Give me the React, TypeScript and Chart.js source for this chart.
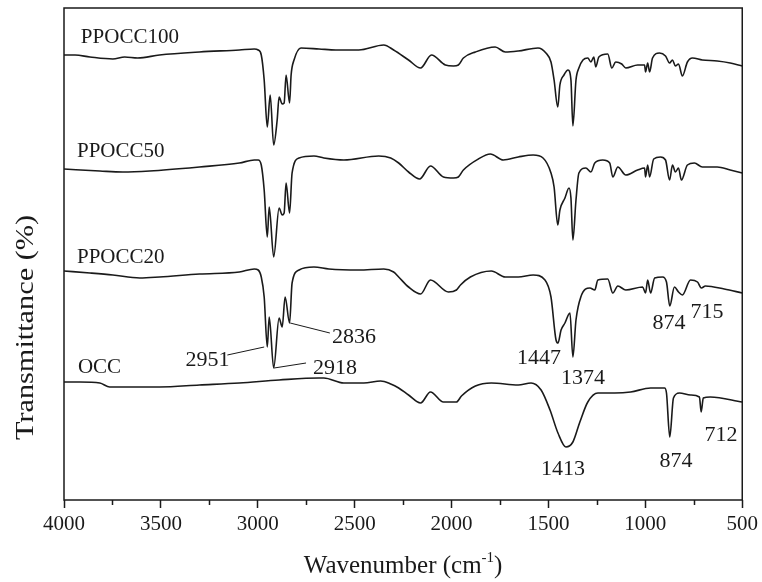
import React, { useEffect, useRef } from 'react';
import { Chart, registerables } from 'chart.js';

Chart.register(...registerables);

// Wavenumber (cm-1) and transmittance (stacked, arbitrary units) for each sample
const PPOCC100_WN = [4000, 3943, 3866, 3748, 3687, 3620, 3507, 3301, 3095, 3018, 2998, 2982, 2967, 2951, 2936, 2918, 2900, 2890, 2874, 2864, 2854, 2836, 2828, 2813, 2777, 2684, 2597, 2479, 2350, 2299, 2222, 2160, 2104, 2032, 1990, 1965, 1939, 1877, 1775, 1723, 1656, 1554, 1513, 1487, 1471, 1452, 1441, 1420, 1399, 1384, 1374, 1358, 1343, 1322, 1297, 1281, 1266, 1256, 1240, 1194, 1173, 1153, 1122, 1101, 1040, 1004, 999, 988, 978, 963, 927, 896, 875, 860, 845, 829, 809, 783, 757, 706, 629, 562, 500];
const PPOCC100_T = [445, 445, 443, 441, 443, 442, 445, 448, 450, 451, 450, 445, 420, 373, 405, 355, 380, 403, 396, 397, 425, 397, 425, 440, 452, 451, 450, 450, 455, 450, 440, 432, 445, 435, 434, 435, 442, 448, 453, 448, 449, 452, 447, 438, 420, 393, 415, 425, 430, 420, 374, 420, 432, 440, 442, 438, 443, 433, 443, 446, 432, 438, 436, 432, 435, 435, 428, 437, 428, 442, 447, 444, 437, 440, 434, 436, 424, 438, 442, 440, 439, 437, 434];

const PPOCC50_WN = [4000, 3815, 3697, 3558, 3301, 3095, 3018, 2998, 2982, 2967, 2951, 2941, 2918, 2890, 2874, 2864, 2854, 2836, 2823, 2787, 2710, 2659, 2556, 2376, 2314, 2273, 2222, 2165, 2109, 2042, 1990, 1965, 1939, 1862, 1800, 1733, 1656, 1579, 1528, 1487, 1471, 1452, 1441, 1415, 1394, 1384, 1374, 1358, 1343, 1307, 1281, 1261, 1220, 1184, 1168, 1142, 1101, 1040, 1004, 999, 988, 978, 957, 922, 896, 875, 860, 845, 829, 814, 783, 747, 706, 629, 562, 500];
const PPOCC50_T = [331, 329, 328, 329, 333, 337, 340, 340, 335, 310, 263, 293, 243, 292, 285, 287, 317, 287, 327, 342, 344, 342, 340, 344, 342, 337, 328, 321, 334, 323, 322, 323, 330, 341, 346, 340, 343, 345, 342, 327, 313, 275, 290, 302, 312, 302, 260, 300, 327, 332, 328, 337, 340, 337, 323, 333, 325, 330, 332, 323, 335, 323, 341, 343, 340, 320, 335, 328, 332, 320, 335, 337, 333, 333, 330, 327];

const PPOCC20_WN = [4000, 3866, 3748, 3609, 3507, 3301, 3095, 3018, 2998, 2982, 2967, 2951, 2941, 2918, 2890, 2874, 2859, 2836, 2823, 2787, 2710, 2633, 2479, 2350, 2299, 2273, 2222, 2160, 2109, 2016, 1975, 1954, 1903, 1795, 1723, 1656, 1579, 1518, 1487, 1461, 1451, 1435, 1415, 1389, 1374, 1358, 1333, 1286, 1261, 1245, 1194, 1168, 1142, 1101, 1014, 999, 988, 973, 952, 911, 891, 874, 850, 829, 809, 767, 731, 711, 690, 593, 500];
const PPOCC20_T = [229, 227, 225, 222, 223, 226, 228, 231, 230, 223, 203, 153, 183, 132, 182, 173, 203, 177, 217, 230, 233, 231, 230, 231, 228, 223, 213, 206, 220, 208, 210, 215, 223, 229, 223, 223, 225, 220, 203, 160, 157, 170, 177, 187, 143, 180, 203, 212, 210, 220, 221, 207, 214, 210, 213, 207, 220, 207, 222, 223, 218, 194, 213, 208, 205, 220, 218, 212, 214, 211, 207];

const OCC_WN = [4000, 3918, 3815, 3764, 3661, 3507, 3301, 3095, 2890, 2684, 2659, 2556, 2453, 2366, 2314, 2273, 2222, 2160, 2109, 2042, 1975, 1949, 1877, 1795, 1656, 1590, 1538, 1492, 1451, 1410, 1374, 1338, 1297, 1245, 1158, 1076, 973, 901, 891, 874, 855, 824, 767, 721, 712, 701, 665, 500];
const OCC_T = [118, 118, 117, 113, 113, 113, 115, 117, 120, 122, 122, 117, 117, 119, 116, 112, 105, 97, 108, 98, 98, 104, 114, 117, 115, 117, 110, 90, 67, 53, 58, 78, 98, 107, 107, 108, 112, 112, 107, 63, 102, 107, 105, 103, 88, 102, 103, 98];

// Axis
const X_MIN = 500;
const X_MAX = 4000;
const X_STEP = 500;
const MINOR_TICKS = [3750, 3250, 2750, 2250, 1750, 1250, 750];

// Sample labels: [text, wavenumber, transmittance]
const SAMPLE_LABELS: [string, number, number][] = [
  ['PPOCC100', 3913, 457],
  ['PPOCC50', 3933, 343],
  ['PPOCC20', 3933, 237],
  ['OCC', 3928, 127],
];

// Peak labels: [text, wavenumber, transmittance]
const PEAK_LABELS: [string, number, number][] = [
  ['2951', 3373, 134],
  ['2918', 2715, 126],
  ['2836', 2617, 157],
  ['1447', 1662, 136],
  ['1374', 1435, 116],
  ['874', 963, 171],
  ['715', 767, 182],
  ['1413', 1538, 25],
  ['874', 927, 33],
  ['712', 695, 59],
];

// Leader lines: [wn1, t1, wn2, t2]
const LEADERS: [number, number, number, number][] = [
  [3157, 145, 2967, 153],
  [2916, 132, 2751, 137],
  [2833, 177, 2628, 167],
];

const SERIF = '"Liberation Serif", "Times New Roman", serif';
const INK = '#1a1a1a';

function pts(wn: number[], t: number[]) {
  return wn.map((w, i) => ({ x: w, y: t[i] }));
}

function drawStretched(ctx: CanvasRenderingContext2D, text: string, x: number, y: number, width: number) {
  const w = ctx.measureText(text).width;
  const s = width / w;
  ctx.save();
  ctx.translate(x, y);
  ctx.scale(s, 1);
  ctx.fillText(text, 0, 0);
  ctx.restore();
}

const overlay = {
  id: 'overlay',
  afterDraw(chart: any) {
    const { ctx, chartArea: a, scales } = chart;
    const xs = scales.x;
    const ys = scales.y;
    ctx.save();
    ctx.strokeStyle = INK;
    ctx.lineWidth = 1.5;
    ctx.strokeRect(a.left, a.top, a.right - a.left, a.bottom - a.top);
    // minor ticks
    ctx.beginPath();
    for (const v of MINOR_TICKS) {
      const px = Math.round(xs.getPixelForValue(v)) + 0.5;
      ctx.moveTo(px, a.bottom);
      ctx.lineTo(px, a.bottom + 5);
    }
    ctx.stroke();

    // leader lines
    ctx.lineWidth = 1;
    ctx.beginPath();
    for (const [w1, t1, w2, t2] of LEADERS) {
      ctx.moveTo(xs.getPixelForValue(w1), ys.getPixelForValue(t1));
      ctx.lineTo(xs.getPixelForValue(w2), ys.getPixelForValue(t2));
    }
    ctx.stroke();

    ctx.fillStyle = INK;
    ctx.textAlign = 'left';
    ctx.textBaseline = 'alphabetic';
    ctx.font = `21px ${SERIF}`;
    for (const [txt, w, t] of SAMPLE_LABELS) {
      ctx.fillText(txt, xs.getPixelForValue(w), ys.getPixelForValue(t));
    }
    ctx.font = `22px ${SERIF}`;
    for (const [txt, w, t] of PEAK_LABELS) {
      ctx.fillText(txt, xs.getPixelForValue(w), ys.getPixelForValue(t));
    }

    // x title with superscript
    const cx = (a.left + a.right) / 2;
    const base = 573;
    ctx.font = `25px ${SERIF}`;
    const p1 = 'Wavenumber (cm';
    const p3 = ')';
    const w1 = ctx.measureText(p1).width;
    const w3 = ctx.measureText(p3).width;
    ctx.font = `15px ${SERIF}`;
    const p2 = '-1';
    const w2 = ctx.measureText(p2).width;
    const x0 = cx - (w1 + w2 + w3) / 2;
    ctx.font = `25px ${SERIF}`;
    ctx.fillText(p1, x0, base);
    ctx.font = `15px ${SERIF}`;
    ctx.fillText(p2, x0 + w1, base - 11);
    ctx.font = `25px ${SERIF}`;
    ctx.fillText(p3, x0 + w1 + w2, base);

    // y title
    ctx.save();
    ctx.translate(33, 440);
    ctx.rotate(-Math.PI / 2);
    ctx.font = `25px ${SERIF}`;
    drawStretched(ctx, 'Transmittance (%)', 0, 0, 225);
    ctx.restore();

    ctx.restore();
  },
};

export default function App() {
  const ref = useRef<HTMLCanvasElement>(null);
  useEffect(() => {
    if (!ref.current) return;
    const mk = (wn: number[], t: number[], label: string) => ({
      label,
      data: pts(wn, t),
      borderColor: INK,
      borderWidth: 1.6,
      pointRadius: 0,
      cubicInterpolationMode: 'monotone' as const,
      fill: false,
    });
    const chart = new Chart(ref.current, {
      type: 'line',
      data: {
        datasets: [
          mk(PPOCC100_WN, PPOCC100_T, 'PPOCC100'),
          mk(PPOCC50_WN, PPOCC50_T, 'PPOCC50'),
          mk(PPOCC20_WN, PPOCC20_T, 'PPOCC20'),
          mk(OCC_WN, OCC_T, 'OCC'),
        ],
      },
      options: {
        responsive: false,
        animation: false,
        layout: { padding: { left: 64, right: 17, top: 8, bottom: 0 } },
        plugins: { legend: { display: false }, tooltip: { enabled: false } },
        scales: {
          x: {
            type: 'linear',
            min: X_MIN,
            max: X_MAX,
            reverse: true,
            afterFit: (s: any) => { s.height = 82; },
            border: { display: false },
            grid: { drawOnChartArea: false, drawTicks: true, tickLength: 8, tickWidth: 1.5, tickColor: INK },
            ticks: {
              stepSize: X_STEP,
              color: INK,
              padding: 4,
              maxRotation: 0,
              font: { family: SERIF, size: 21 },
              callback: (v: any) => String(v),
            },
          },
          y: {
            display: false,
            min: 0,
            max: 492,
          },
        },
      },
      plugins: [overlay],
    });
    return () => chart.destroy();
  }, []);
  return (
    <div style={{ position: 'absolute', left: 0, top: 0, width: 762, height: 582, background: '#fff' }}>
      <canvas ref={ref} width={762} height={582} />
    </div>
  );
}
